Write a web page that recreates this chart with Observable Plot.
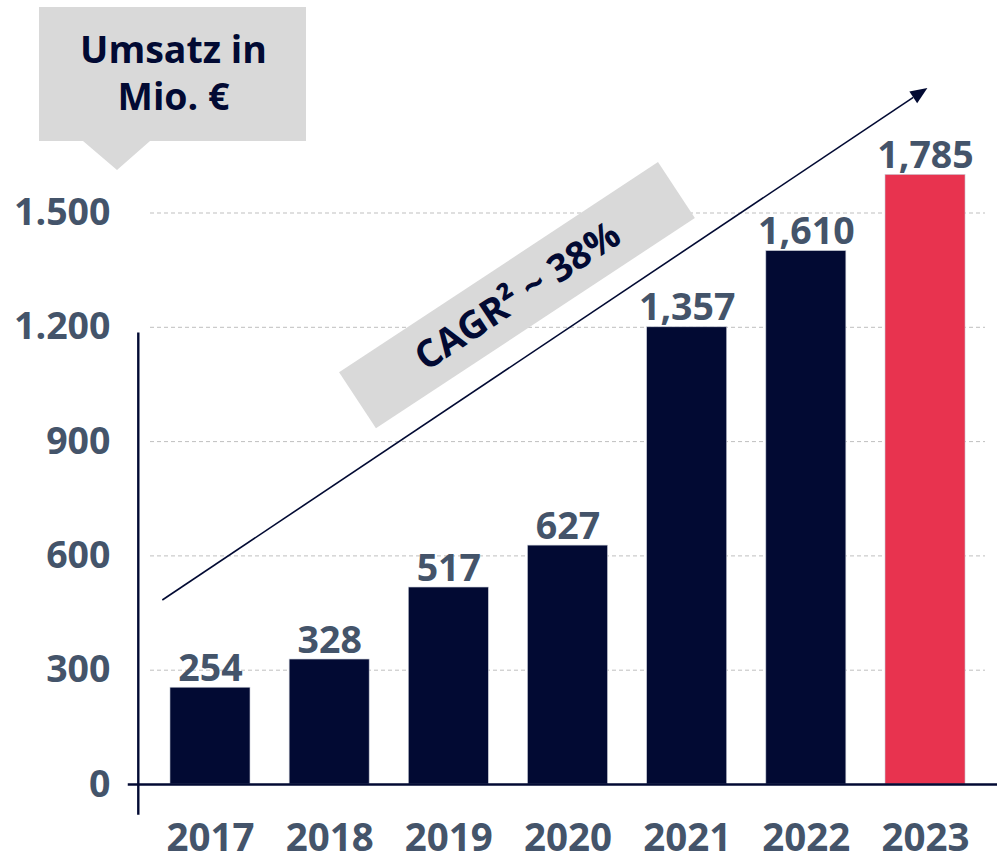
<!DOCTYPE html>
<html>
<head>
<meta charset="utf-8">
<script src="https://cdn.jsdelivr.net/npm/d3@7"></script>
<script src="https://cdn.jsdelivr.net/npm/@observablehq/plot@0.6"></script>
<style>
  html, body { margin: 0; padding: 0; background: #ffffff; }
  #chart svg { display: block; }
</style>
</head>
<body>
<div id="chart"></div>
<script>
// ---- data ----
const years = [2017, 2018, 2019, 2020, 2021, 2022, 2023];
const barValues = [254, 328, 517, 627, 1200, 1400, 1600];          // bar heights as drawn
const valueLabels = ["254", "328", "517", "627", "1,357", "1,610", "1,785"];
const highlightYear = 2023;
const yTicks = [0, 300, 600, 900, 1200, 1500];
const yTickLabels = ["0", "300", "600", "900", "1.200", "1.500"];
const calloutLines = ["Umsatz in", "Mio. €"];
const cagrText = "CAGR² ~ 38%";

// ---- style ----
const NAVY = "#020A33";
const RED = "#E8334F";
const SLATE = "#44546A";
const GREY = "#D9D9D9";
const FONT = "'Open Sans', 'Noto Sans', sans-serif";

const table = years.map((year, i) => ({
  year, value: barValues[i], label: valueLabels[i], hi: year === highlightYear
}));

// annotation layer (uses the plot's scales)
function annotations(index, scales) {
  const {x, y} = scales;
  const g = d3.create("svg:g").attr("font-family", FONT);

  // callout box "Umsatz in Mio. €"
  const bx0 = 39, by0 = 7, bx1 = 306, by1 = 141;
  g.append("path")
    .attr("d", `M${bx0},${by0}H${bx1}V${by1}H150L117,170L83,${by1}H${bx0}Z`)
    .attr("fill", GREY);
  calloutLines.forEach((t, i) => {
    g.append("text")
      .attr("x", (bx0 + bx1) / 2 + 1)
      .attr("y", 63 + i * 47)
      .attr("text-anchor", "middle")
      .attr("font-size", 37.5)
      .attr("font-weight", 700)
      .attr("fill", NAVY)
      .text(t);
  });

  // growth arrow
  const ax1 = x(2016.6), ay1 = y(483);
  const ax2 = x(2023.02), ay2 = y(1827);
  const ang = Math.atan2(ay2 - ay1, ax2 - ax1);
  const headL = 17, headW = 7;
  const bxp = ax2 - headL * Math.cos(ang), byp = ay2 - headL * Math.sin(ang);
  g.append("line")
    .attr("x1", ax1).attr("y1", ay1).attr("x2", bxp).attr("y2", byp)
    .attr("stroke", NAVY).attr("stroke-width", 1.6);
  g.append("path")
    .attr("d", `M${ax2},${ay2}L${bxp + headW * Math.sin(ang)},${byp - headW * Math.cos(ang)}L${bxp - headW * Math.sin(ang)},${byp + headW * Math.cos(ang)}Z`)
    .attr("fill", NAVY);

  // rotated CAGR label box
  const deg = ang * 180 / Math.PI + 0.4;
  const cg = g.append("g")
    .attr("transform", `translate(${x(2019.576)},${y(1283)}) rotate(${deg})`);
  cg.append("rect")
    .attr("x", -191).attr("y", -33.5).attr("width", 382).attr("height", 67)
    .attr("fill", GREY);
  cg.append("text")
    .attr("x", 0).attr("y", 0).attr("dy", "0.36em")
    .attr("text-anchor", "middle")
    .attr("font-size", 38)
    .attr("font-weight", 700)
    .attr("fill", NAVY)
    .text(cagrText);

  return g.node();
}

const chart = Plot.plot({
  width: 997,
  height: 855,
  marginLeft: 150,
  marginRight: 12,
  marginTop: 0,
  marginBottom: 71,
  style: {fontFamily: FONT, background: "#ffffff", overflow: "visible"},
  x: {domain: [2016.5, 2023.5], range: [150.4, 984.6], axis: null},
  y: {domain: [0, 1500], range: [784, 212.5], axis: null},
  marks: [
    // dashed gridlines
    Plot.ruleY(yTicks.filter(d => d > 0), {stroke: "#BFBFBF", strokeWidth: 1, strokeDasharray: "4,3"}),
    // bars
    Plot.rectY(table, {
      x1: d => d.year - 0.3357, x2: d => d.year + 0.3357,
      y1: 0, y2: "value",
      fill: d => d.hi ? RED : NAVY,
      stroke: "#C8CCD6", strokeWidth: 0.6
    }),
    // value labels
    Plot.text(table, {
      x: "year", y: "value", text: "label", dy: -19,
      fill: SLATE, fontSize: 37.5, fontWeight: 700
    }),
    // baseline and left axis line
    Plot.ruleY([0], {x1: 2016.31, x2: 2024.6, stroke: NAVY, strokeWidth: 2.4}),
    Plot.ruleX([2016.5], {dx: -12.6, y1: -81, y2: 1185, stroke: NAVY, strokeWidth: 2.4}),
    // axes
    Plot.axisY({
      anchor: "left", ticks: yTicks, tickSize: 0, tickPadding: 40, label: null,
      tickFormat: d => yTickLabels[yTicks.indexOf(d)],
      fontSize: 37.5, fontWeight: 700, color: SLATE
    }),
    Plot.axisX({
      anchor: "bottom", ticks: years, tickSize: 0, tickPadding: 39, label: null,
      tickFormat: d => String(d),
      fontSize: 38.5, fontWeight: 700, color: SLATE
    }),
    annotations
  ]
});

document.getElementById("chart").append(chart);
</script>
</body>
</html>
